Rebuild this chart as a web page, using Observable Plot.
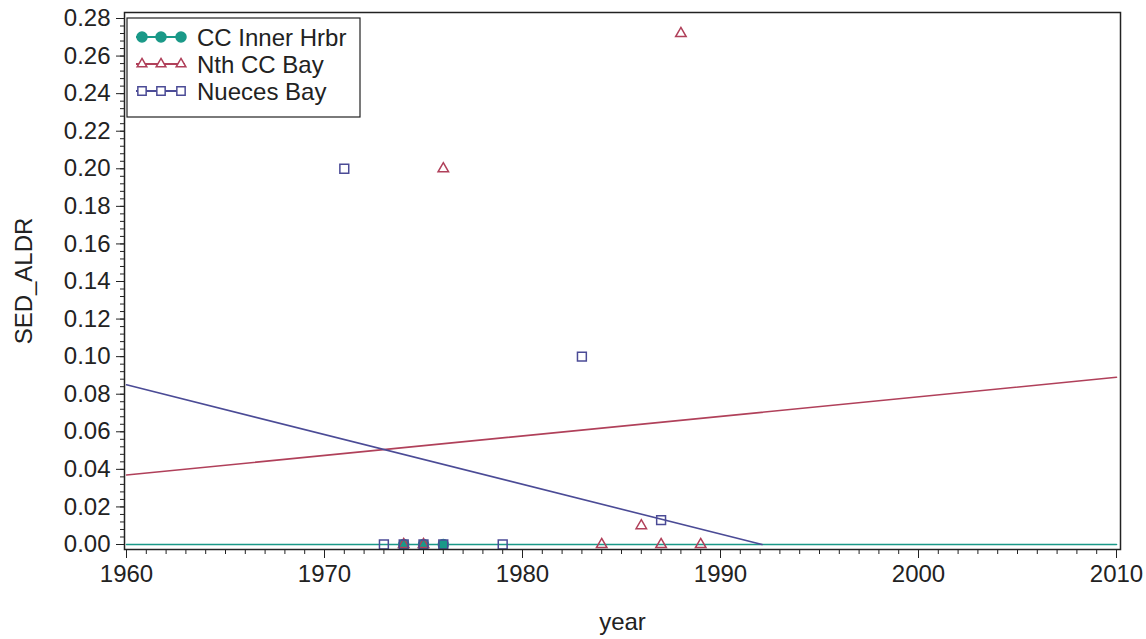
<!DOCTYPE html>
<html>
<head>
<meta charset="utf-8">
<script src="https://cdn.jsdelivr.net/npm/d3@7"></script>
<script src="https://cdn.jsdelivr.net/npm/@observablehq/plot@0.6"></script>
<style>
  html, body { margin: 0; padding: 0; background: #fff; }
  #chart { position: relative; width: 1146px; height: 639px; }
</style>
</head>
<body>
<div id="chart"></div>
<script>
// ---- data ----
const seriesNames = ["CC Inner Hrbr", "Nth CC Bay", "Nueces Bay"];
const seriesColors = ["#1a9988", "#b0405a", "#4b4b96"];
const seriesSymbols = ["circle", "triangle", "square"];

const ccYear = [1974, 1975, 1976];
const ccVal = [0, 0, 0];
const nthYear = [1974, 1975, 1976, 1984, 1986, 1987, 1988, 1989];
const nthVal = [0, 0, 0.20, 0, 0.01, 0, 0.272, 0];
const nuecesYear = [1971, 1973, 1974, 1975, 1976, 1979, 1983, 1987];
const nuecesVal = [0.20, 0, 0, 0, 0, 0, 0.10, 0.013];

// fitted regression lines (end points)
const ccFitYear = [1960, 2010];
const ccFitVal = [0, 0];
const nthFitYear = [1960, 2010];
const nthFitVal = [0.037, 0.089];
const nuecesFitYear = [1960, 1992.1];
const nuecesFitVal = [0.085, 0];

const xMajor = [1960, 1970, 1980, 1990, 2000, 2010];
const xMinor = d3.range(1960, 2011, 1);
const yMajor = d3.range(0, 0.2801, 0.02).map(v => +v.toFixed(3));
const yMinor = d3.range(0, 0.2801, 0.004).map(v => +v.toFixed(3));

const toRows = (xs, ys) => xs.map((x, i) => ({year: x, value: ys[i]}));
const cc = toRows(ccYear, ccVal);
const nth = toRows(nthYear, nthVal);
const nue = toRows(nuecesYear, nuecesVal);
const ccFit = toRows(ccFitYear, ccFitVal);
const nthFit = toRows(nthFitYear, nthFitVal);
const nueFit = toRows(nuecesFitYear, nuecesFitVal);

const FONT = "Liberation Sans, Arial, Helvetica, sans-serif";

const plot = Plot.plot({
  width: 1146,
  height: 639,
  marginLeft: 124,
  marginRight: 26,
  marginTop: 12,
  marginBottom: 90,
  style: {fontFamily: FONT, fontSize: "24px", color: "#222", background: "#fff"},
  x: {domain: [1960, 2010], insetLeft: 2, insetRight: 4},
  y: {domain: [0, 0.28], insetTop: 6, insetBottom: 5},
  marks: [
    Plot.axisX({ticks: xMinor, tickSize: 5, text: null, label: null, stroke: "#222"}),
    Plot.axisX({ticks: xMajor, tickSize: 9, tickFormat: d3.format("d"), tickPadding: 6,
      label: "year", labelAnchor: "center", labelArrow: "none", labelOffset: 80, stroke: "#222", fontSize: 24}),
    Plot.axisY({ticks: yMinor, tickSize: 4, text: null, label: null, stroke: "#222"}),
    Plot.axisY({ticks: yMajor, tickSize: 8, tickFormat: d3.format(".2f"), tickPadding: 6,
      label: "SED_ALDR", labelAnchor: "center", labelArrow: "none", labelOffset: 110, stroke: "#222", fontSize: 24}),
    Plot.line(ccFit, {x: "year", y: "value", stroke: seriesColors[0], strokeWidth: 1.6}),
    Plot.line(nthFit, {x: "year", y: "value", stroke: seriesColors[1], strokeWidth: 1.6}),
    Plot.line(nueFit, {x: "year", y: "value", stroke: seriesColors[2], strokeWidth: 1.6}),
    Plot.dot(cc, {x: "year", y: "value", symbol: seriesSymbols[0], r: 5, fill: seriesColors[0], stroke: seriesColors[0]}),
    Plot.dot(nth, {x: "year", y: "value", symbol: seriesSymbols[1], r: 3.9, fill: "none", stroke: seriesColors[1], strokeWidth: 1.5}),
    Plot.dot(nue, {x: "year", y: "value", symbol: seriesSymbols[2], r: 5, fill: "none", stroke: seriesColors[2], strokeWidth: 1.5}),
    Plot.frame({stroke: "#222", strokeWidth: 1.5})
  ]
});

document.getElementById("chart").appendChild(plot);

// ---- legend inside the plot frame ----
const svg = d3.select(plot);
const lg = svg.append("g").attr("transform", "translate(127,18)");
lg.append("rect").attr("x", 0).attr("y", 0).attr("width", 233).attr("height", 99)
  .attr("fill", "#fff").attr("stroke", "#222").attr("stroke-width", 1.2);
const symScale = {circle: d3.symbolCircle, triangle: d3.symbolTriangle, square: d3.symbolSquare};
const symSize = {circle: Math.PI * 25, triangle: Math.PI * 13, square: Math.PI * 22};
seriesNames.forEach((name, i) => {
  const cy = 19 + i * 27;
  const row = lg.append("g").attr("transform", `translate(0,${cy})`);
  row.append("line").attr("x1", 9).attr("x2", 58).attr("y1", 0).attr("y2", 0)
    .attr("stroke", seriesColors[i]).attr("stroke-width", 2);
  [15, 34, 54].forEach(sx => {
    const s = seriesSymbols[i];
    row.append("path").attr("transform", `translate(${sx},0)`)
      .attr("d", d3.symbol(symScale[s], symSize[s])())
      .attr("fill", s === "circle" ? seriesColors[i] : "#fff")
      .attr("stroke", seriesColors[i]).attr("stroke-width", 1.5);
  });
  row.append("text").attr("x", 70).attr("y", 0).attr("dy", "0.36em")
    .attr("text-anchor", "start")
    .attr("font-family", FONT).attr("font-size", 24).attr("fill", "#222").text(name);
});
</script>
</body>
</html>
